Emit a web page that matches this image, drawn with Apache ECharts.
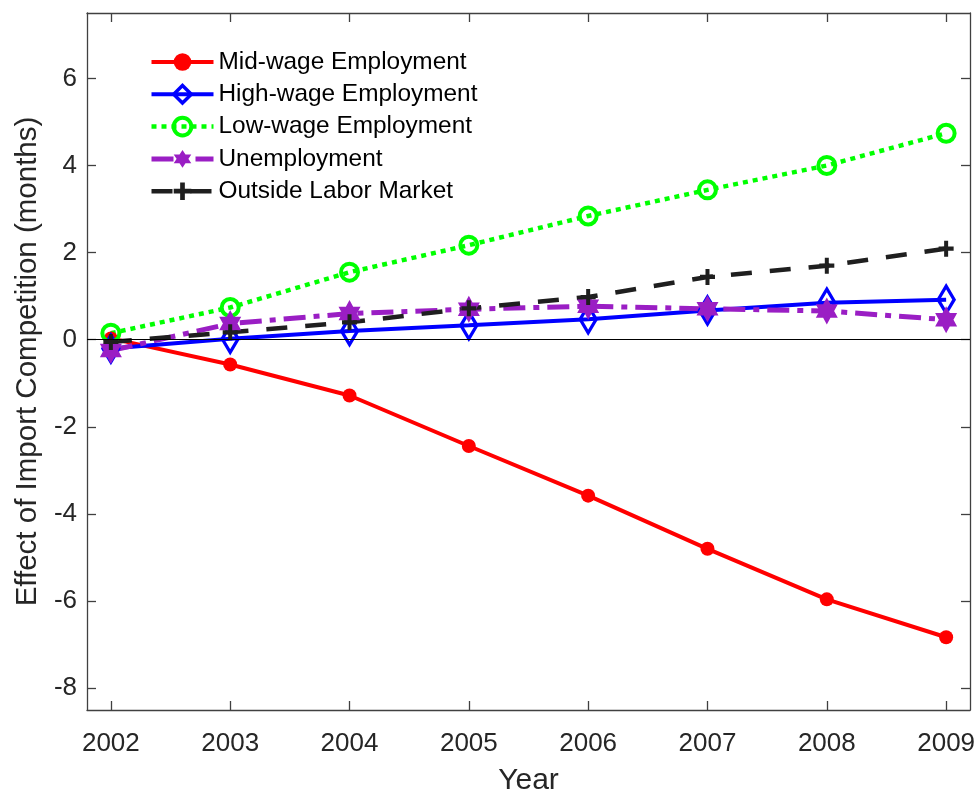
<!DOCTYPE html>
<html>
<head>
<meta charset="utf-8">
<script src="https://cdn.jsdelivr.net/npm/echarts@6/dist/echarts.min.js"></script>
<style>
html,body{margin:0;padding:0;background:#fff;}
#chart{width:978px;height:791px;}
</style>
</head>
<body>
<div id="chart"></div>
<script>
const years = [2002, 2003, 2004, 2005, 2006, 2007, 2008, 2009];
const yTicks = [-8, -6, -4, -2, 0, 2, 4, 6];
const seriesNames = ['Mid-wage Employment', 'High-wage Employment', 'Low-wage Employment', 'Unemployment', 'Outside Labor Market'];
const midWage = [0.03, -0.57, -1.28, -2.44, -3.58, -4.80, -5.96, -6.83];
const highWage = [-0.20, 0.02, 0.20, 0.33, 0.47, 0.67, 0.85, 0.92];
const lowWage = [0.15, 0.74, 1.55, 2.17, 2.84, 3.44, 4.00, 4.74];
const unemployment = [-0.25, 0.37, 0.60, 0.70, 0.77, 0.71, 0.66, 0.46];
const outsideLabor = [-0.05, 0.17, 0.40, 0.72, 0.98, 1.44, 1.70, 2.09];

const FONT = 'Liberation Sans, Arial, Helvetica, sans-serif';
const AX = '#404040';
const TXT = '#262626';

function pairs(vals) { return years.map((y, i) => [y, vals[i]]); }

const hexagram = 'path://M0,-10 L8.66,5 L-8.66,5 Z M0,10 L-8.66,-5 L8.66,-5 Z';
const plus = 'path://M-2,-7.5 H2 V-2 H7.5 V2 H2 V7.5 H-2 V2 H-7.5 V-2 H-2 Z';

const baseAxisX = {
  type: 'value', min: 2001.8, max: 2009.2,
  axisLine: { show: true, onZero: false, lineStyle: { color: AX, width: 1.3 } },
  splitLine: { show: false },
};
const baseAxisY = {
  type: 'value', min: -8.5, max: 7.5,
  axisLine: { show: true, onZero: false, lineStyle: { color: AX, width: 1.3 } },
  splitLine: { show: false },
};

const chart = echarts.init(document.getElementById('chart'), null, { renderer: 'canvas' });
chart.setOption({
  animation: false,
  backgroundColor: '#ffffff',
  textStyle: { fontFamily: FONT },
  grid: { left: 87, right: 8, top: 13, bottom: 81, containLabel: false, outerBoundsMode: 'none' },
  legend: {
    orient: 'vertical', left: 149, top: 50, padding: 0,
    itemWidth: 62, itemHeight: 22, itemGap: 8.3,
    lineStyle: { width: 'inherit' },
    itemStyle: { borderWidth: 'inherit' },
    textStyle: { fontFamily: FONT, fontSize: 24.4, color: '#000' },
    data: seriesNames
  },
  xAxis: [
    Object.assign({}, baseAxisX, {
      position: 'bottom',
      axisTick: { show: true, inside: true, length: 9, customValues: years, lineStyle: { color: AX, width: 1.3 } },
      axisLabel: { show: true, customValues: years, formatter: v => String(Math.round(v)), fontSize: 26, color: TXT, margin: 21, fontFamily: FONT },
      name: 'Year', nameLocation: 'middle', nameGap: 56,
      nameTextStyle: { fontSize: 30, color: TXT, fontFamily: FONT }
    }),
    Object.assign({}, baseAxisX, {
      position: 'top',
      axisTick: { show: true, inside: true, length: 9, customValues: years, lineStyle: { color: AX, width: 1.3 } },
      axisLabel: { show: false }
    })
  ],
  yAxis: [
    Object.assign({}, baseAxisY, {
      position: 'left',
      axisTick: { show: true, inside: true, length: 9, customValues: yTicks, lineStyle: { color: AX, width: 1.3 } },
      axisLabel: { show: true, customValues: yTicks, fontSize: 26, color: TXT, margin: 10, fontFamily: FONT },
      name: 'Effect of Import Competition (months)', nameLocation: 'middle', nameGap: 41,
      nameTextStyle: { fontSize: 29.5, color: TXT, fontFamily: FONT }
    }),
    Object.assign({}, baseAxisY, {
      position: 'right',
      axisTick: { show: true, inside: true, length: 9, customValues: yTicks, lineStyle: { color: AX, width: 1.3 } },
      axisLabel: { show: false }
    })
  ],
  series: [
    {
      name: seriesNames[0], type: 'line', data: pairs(midWage),
      symbol: 'circle', symbolSize: 14,
      lineStyle: { color: '#ff0000', width: 4 },
      itemStyle: { color: '#ff0000' },
      markLine: {
        silent: true, symbol: 'none', label: { show: false },
        lineStyle: { color: '#000', width: 1.2, type: 'solid' },
        data: [{ yAxis: 0 }]
      }
    },
    {
      name: seriesNames[1], type: 'line', data: pairs(highWage),
      symbol: 'diamond', symbolSize: [16, 27],
      lineStyle: { color: '#0000ff', width: 4 },
      itemStyle: { color: 'rgba(255,255,255,0)', borderColor: '#0000ff', borderWidth: 3.5 }
    },
    {
      name: seriesNames[2], type: 'line', data: pairs(lowWage),
      symbol: 'circle', symbolSize: 17,
      lineStyle: { color: '#00ff00', width: 4.5, type: [5, 5] },
      itemStyle: { color: 'rgba(255,255,255,0)', borderColor: '#00ff00', borderWidth: 4 }
    },
    {
      name: seriesNames[3], type: 'line', data: pairs(unemployment),
      symbol: hexagram, symbolSize: [22, 27],
      lineStyle: { color: '#9a1ec4', width: 5, type: [22, 8, 6, 8] },
      itemStyle: { color: '#9a1ec4' }
    },
    {
      name: seriesNames[4], type: 'line', data: pairs(outsideLabor),
      symbol: plus, symbolSize: [15, 16],
      lineStyle: { color: '#1f1f1f', width: 4.5, type: [21, 18] },
      itemStyle: { color: '#1f1f1f' }
    }
  ]
});
</script>
</body>
</html>
